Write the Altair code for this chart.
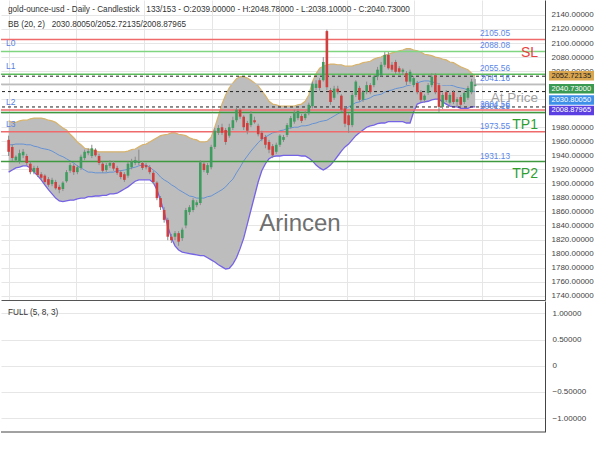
import altair as alt
import pandas as pd

# ---------------- data ----------------
opens = [1962, 1952, 1933, 1931, 1940, 1939, 1928, 1916, 1922, 1913,
         1911, 1906, 1899, 1902, 1895, 1892, 1903, 1918, 1925, 1916,
         1922, 1936, 1943, 1939, 1948, 1939, 1928, 1919, 1925, 1929,
         1922, 1916, 1913, 1911, 1923, 1929, 1929, 1929, 1926, 1923,
         1915, 1901, 1879, 1862, 1848, 1824, 1824, 1829, 1822, 1840,
         1859, 1862, 1869, 1872, 1928, 1915, 1923, 1952, 1972, 1980,
         1976, 1968, 1979, 1990, 2005, 1995, 1986, 1983, 1990, 1982,
         1972, 1966, 1959, 1953, 1945, 1955, 1962, 1969, 1980, 1988,
         1993, 1996, 1993, 2000, 2010, 2036, 2047, 2047, 2117, 2033,
         2022, 2035, 2025, 2007, 1997, 1983, 2026, 2036, 2019, 2030,
         2040, 2040, 2052, 2054, 2069, 2083, 2069, 2073, 2064, 2059,
         2057, 2045, 2040, 2043, 2030, 2019, 2029, 2040, 2054, 2040,
         2009, 2030, 2015, 2030, 2016, 2023, 2016, 2022, 2030, 2039.0]
highs = [1968, 1956, 1940, 1948, 1949, 1942, 1931, 1925, 1925, 1916,
         1913, 1909, 1908, 1905, 1898, 1903, 1919, 1929, 1928, 1926,
         1941, 1948, 1950, 1955, 1950, 1942, 1931, 1929, 1933, 1932,
         1925, 1919, 1916, 1931, 1935, 1938, 1948, 1932, 1929, 1926,
         1918, 1903, 1882, 1866, 1851, 1828, 1832, 1832, 1837, 1865,
         1869, 1879, 1876, 1933, 1931, 1929, 1955, 1979, 1983, 1985,
         1979, 1985, 1995, 2009, 2007, 1997, 1989, 2003, 1995, 1985,
         1975, 1969, 1962, 1956, 1958, 1970, 1969, 1986, 1996, 2005,
         2006, 1999, 2003, 2015, 2045, 2047, 2050, 2080, 2119, 2036,
         2039, 2039, 2027, 2010, 2000, 2029, 2047, 2039, 2033, 2045,
         2043, 2054, 2066, 2073, 2087, 2087, 2073, 2076, 2067, 2064,
         2060, 2062, 2053, 2046, 2033, 2027, 2043, 2057, 2057, 2043,
         2029, 2033, 2029, 2033, 2023, 2026, 2032, 2039, 2049, 2048.78]
lows = [1939, 1932, 1931, 1928, 1936, 1926, 1913, 1913, 1909, 1905,
        1899, 1895, 1896, 1891, 1886, 1889, 1901, 1915, 1912, 1913,
        1919, 1933, 1940, 1936, 1938, 1926, 1915, 1916, 1922, 1918,
        1912, 1906, 1902, 1908, 1920, 1926, 1926, 1919, 1920, 1913,
        1899, 1876, 1862, 1844, 1819, 1815, 1819, 1811, 1818, 1836,
        1855, 1859, 1866, 1869, 1916, 1912, 1920, 1949, 1969, 1969,
        1955, 1965, 1976, 1987, 1992, 1976, 1970, 1980, 1985, 1967,
        1960, 1950, 1943, 1936, 1942, 1952, 1959, 1966, 1978, 1985,
        1990, 1986, 1990, 1997, 2007, 2033, 2032, 2045, 2033, 2012,
        2019, 2027, 2002, 1980, 1972, 1980, 2023, 2016, 2016, 2027,
        2027, 2037, 2047, 2052, 2066, 2062, 2059, 2056, 2056, 2054,
        2040, 2042, 2037, 2027, 2016, 2015, 2026, 2037, 2027, 2002,
        2006, 2016, 2012, 2013, 2010, 2009, 2013, 2019, 2027, 2038.1]
closes = [1945, 1936, 1938, 1943, 1945, 1929, 1916, 1922, 1912, 1908,
          1902, 1898, 1905, 1893, 1891, 1901, 1916, 1926, 1916, 1923,
          1938, 1945, 1946, 1950, 1940, 1929, 1918, 1926, 1929, 1921,
          1915, 1909, 1905, 1928, 1931, 1933, 1931, 1922, 1923, 1916,
          1902, 1879, 1866, 1848, 1824, 1819, 1829, 1817, 1834, 1862,
          1866, 1876, 1873, 1930, 1919, 1926, 1952, 1975, 1979, 1972,
          1959, 1980, 1990, 2005, 1995, 1980, 1975, 1999, 1987, 1970,
          1963, 1955, 1948, 1940, 1955, 1968, 1966, 1983, 1993, 2000,
          2003, 1989, 1999, 2012, 2042, 2042, 2036, 2073, 2037, 2016,
          2035, 2030, 2005, 1985, 1983, 2026, 2045, 2019, 2030, 2040,
          2030, 2052, 2062, 2069, 2083, 2064, 2062, 2059, 2059, 2062,
          2045, 2059, 2050, 2030, 2019, 2025, 2040, 2052, 2030, 2009,
          2026, 2019, 2026, 2016, 2020, 2012, 2029, 2036, 2045, 2040.73]

bb_upper = [1989, 1987, 1987, 1989, 1990, 1990, 1992, 1993, 1993, 1993,
            1992, 1990, 1989, 1987, 1983, 1979, 1976, 1970, 1965, 1959,
            1955, 1950, 1949, 1948, 1946, 1945, 1945, 1945, 1945, 1945,
            1945, 1945, 1945, 1946, 1948, 1949, 1952, 1955, 1956, 1959,
            1962, 1965, 1968, 1969, 1970, 1972, 1972, 1970, 1969, 1968,
            1965, 1963, 1962, 1959, 1959, 1960, 1966, 1980, 1996, 2013,
            2026, 2036, 2043, 2049, 2052, 2052, 2050, 2047, 2043, 2039,
            2032, 2025, 2017, 2013, 2012, 2010, 2010, 2010, 2010, 2010,
            2012, 2013, 2017, 2026, 2045, 2056, 2064, 2067, 2069, 2070,
            2070, 2069, 2069, 2067, 2067, 2067, 2069, 2070, 2072, 2073,
            2074, 2077, 2079, 2080, 2083, 2084, 2086, 2087, 2089, 2090,
            2092, 2092, 2090, 2089, 2087, 2084, 2083, 2082, 2080, 2079,
            2077, 2076, 2073, 2072, 2069, 2066, 2064, 2062, 2057, 2052.72]
bb_mid = [1955, 1955, 1956, 1956, 1956, 1955, 1955, 1953, 1952, 1950,
          1949, 1948, 1946, 1943, 1940, 1938, 1935, 1932, 1929, 1925,
          1922, 1919, 1916, 1916, 1915, 1915, 1915, 1915, 1916, 1916,
          1918, 1918, 1919, 1920, 1922, 1923, 1925, 1926, 1926, 1923,
          1919, 1915, 1909, 1905, 1902, 1898, 1895, 1891, 1888, 1885,
          1882, 1881, 1879, 1879, 1879, 1881, 1882, 1885, 1888, 1891,
          1895, 1901, 1906, 1915, 1923, 1932, 1939, 1946, 1952, 1958,
          1963, 1966, 1969, 1972, 1973, 1975, 1976, 1978, 1979, 1980,
          1980, 1982, 1982, 1983, 1985, 1986, 1988, 1989, 1990, 1993,
          1996, 1999, 2002, 2005, 2009, 2012, 2015, 2016, 2019, 2020,
          2022, 2025, 2026, 2027, 2030, 2032, 2033, 2035, 2036, 2037,
          2039, 2040, 2042, 2043, 2045, 2046, 2046, 2045, 2043, 2042,
          2040, 2040, 2040, 2039, 2037, 2036, 2035, 2033, 2032, 2030.80]
bb_lower = [1916, 1919, 1922, 1923, 1925, 1925, 1922, 1916, 1911, 1905,
            1898, 1891, 1885, 1879, 1875, 1874, 1875, 1876, 1876, 1878,
            1879, 1879, 1881, 1881, 1882, 1882, 1883, 1883, 1885, 1885,
            1886, 1889, 1892, 1895, 1899, 1903, 1905, 1905, 1905, 1905,
            1901, 1891, 1876, 1859, 1839, 1822, 1811, 1805, 1802, 1801,
            1800, 1799, 1798, 1797, 1797, 1794, 1791, 1788, 1784, 1781,
            1778, 1779, 1785, 1794, 1807, 1822, 1842, 1862, 1882, 1902,
            1918, 1928, 1935, 1938, 1939, 1939, 1940, 1940, 1940, 1940,
            1940, 1939, 1939, 1936, 1932, 1926, 1922, 1919, 1922, 1926,
            1932, 1939, 1946, 1952, 1956, 1962, 1968, 1972, 1976, 1980,
            1982, 1983, 1985, 1986, 1986, 1988, 1988, 1988, 1988, 1988,
            1986, 1986, 2002, 2013, 2015, 2016, 2017, 2019, 2020, 2020,
            2016, 2013, 2010, 2009, 2009, 2007, 2007, 2007, 2009, 2008.88]

level_prices = [2105.05, 2088.08, 2055.56, 2041.16, 2004.56, 2001.15, 1973.55, 1931.13]
level_labels = ["2105.05", "2088.08", "2055.56", "2041.16", "2004.56", "2001.15", "1973.55", "1931.13"]
level_colors = ["#ef6a6a", "#80d680", "#5cba5c", "#bdbdbd", "#ef6a6a", "#3f9a3f", "#ef6a6a", "#3f9a3f"]
l_names = ["L0", "L1", "L2", "L3"]
l_prices = [2088.08, 2055.56, 2004.56, 1973.55]
bb_last = [2052.72135, 2030.80050, 2008.87965]
badge_values = [2052.72135, 2040.73000, 2030.80050, 2008.87965]
badge_texts = ["2052.72135", "2040.73000", "2030.80050", "2008.87965"]
badge_fills = ["#d9a54e", "#3a9a52", "#3d8fe8", "#5b3fe2"]
badge_text_colors = ["#222222", "#ffffff", "#ffffff", "#ffffff"]
badge_shift = [-0.4, 4.2, 8.4, 3.5]
price_ticks = list(range(1740, 2141, 20))
hidden_ticks = [2000, 2020, 2040]
osc_ticks = [-1, -0.5, 0, 0.5, 1]
grid_positions = [0, 18.7, 37.4, 56.1, 74.8, 93.5, 112.2, 130.9]

title1 = "gold-ounce-usd - Daily - Candlestick\u00a0\u00a0\u00a0133/153 - O:2039.00000 - H:2048.78000 - L:2038.10000 - C:2040.73000"
title2 = "BB (20, 2)\u00a0\u00a0\u00a02030.80050/2052.72135/2008.87965"

FONT = "Liberation Sans"
W, H = 544, 300

n = len(closes)
candles = pd.DataFrame({"i": list(range(n)), "open": opens, "high": highs, "low": lows, "close": closes})
bands = pd.DataFrame({"i": list(range(n)), "upper": bb_upper, "mid": bb_mid, "lower": bb_lower})
levels = pd.DataFrame({"p": level_prices, "lab": level_labels, "c": level_colors})
lnames = pd.DataFrame({"p": l_prices, "lab": l_names})
bbl = pd.DataFrame({"p": bb_last})

xscale = alt.Scale(domain=[-0.733, 146.93], nice=False, zero=False)
yscale = alt.Scale(domain=[1733.8, 2161.3], nice=False, zero=False)
xax = alt.Axis(values=grid_positions, labels=False, ticks=False, domain=True,
               domainColor="#555555", grid=True, gridColor="#e6e6e6", title=None)
hidden_expr = "indexof(" + str(hidden_ticks) + ", datum.value) >= 0 ? '' : format(datum.value, '.5f')"
yax = alt.Axis(orient="right", values=price_ticks, labelExpr=hidden_expr, ticks=False,
               labelPadding=6, labelFontSize=8, labelColor="#444444", labelFont=FONT,
               domainColor="#444444", gridColor="#e6e6e6", title=None, labelOverlap=False)


def X(f):
    return alt.X(f, type="quantitative", scale=xscale, axis=xax)


def Y(f):
    return alt.Y(f, type="quantitative", scale=yscale, axis=yax)


area = alt.Chart(bands).mark_area(color="#bdbdbd", opacity=1).encode(
    x=X("i"), y=Y("upper"), y2="lower")
up_line = alt.Chart(bands).mark_line(color="#d8b36c", strokeWidth=1.2).encode(x=X("i"), y=Y("upper"))
lo_line = alt.Chart(bands).mark_line(color="#7563e6", strokeWidth=1.3).encode(x=X("i"), y=Y("lower"))
mid_line = alt.Chart(bands).mark_line(color="#5b8dd6", strokeWidth=0.9).encode(x=X("i"), y=Y("mid"))

lvl_rules = alt.Chart(levels).mark_rule(strokeWidth=1.5).encode(
    y=Y("p"), color=alt.Color("c:N", scale=None))
dash_rules = alt.Chart(bbl).mark_rule(color="#222222", strokeWidth=1, strokeDash=[3, 3]).encode(y=Y("p"))

wicks = alt.Chart(candles).mark_rule(color="#8a8a8a", strokeWidth=1).encode(
    x=X("i"), y=Y("low"), y2="high")
bodies = alt.Chart(candles).mark_bar(size=2.6).encode(
    x=X("i"), y=Y("open"), y2="close",
    color=alt.condition("datum.close >= datum.open", alt.value("#3e9d5e"), alt.value("#d03e3e")))

lvl_text = alt.Chart(levels).mark_text(align="left", baseline="bottom", dy=-1, fontSize=8.3,
                                        color="#5a86e8", font=FONT).encode(
    x=alt.value(479), y=Y("p"), text="lab:N")
lname_text = alt.Chart(lnames).mark_text(align="left", baseline="bottom", dy=-3, fontSize=8.5,
                                          color="#5a7fe0", font=FONT).encode(
    x=alt.value(5), y=Y("p"), text="lab:N")

one = pd.DataFrame({"k": [0]})


def label(txt, x, y, size, color, align="left", baseline="middle"):
    return alt.Chart(one).mark_text(text=txt, align=align, baseline=baseline, fontSize=size,
                                    color=color, font=FONT).encode(x=alt.value(x), y=alt.value(y))


texts = [
    label(title1, 7, 10, 8.2, "#333333"),
    label(title2, 7, 25, 8.2, "#333333"),
    label("SL", 537, 56.5, 14, "#e8413d", align="right", baseline="alphabetic"),
    label("TP1", 537, 129, 14, "#2f9e2f", align="right", baseline="alphabetic"),
    label("TP2", 537, 178, 14, "#2f9e2f", align="right", baseline="alphabetic"),
    label("At Price", 537, 101.5, 13.5, "#a0a0a0", align="right", baseline="alphabetic"),
    label("Arincen", 299, 224, 24, "#6f6f6f", align="center"),
]

badges = []
for v, t, f, tc, s in zip(badge_values, badge_texts, badge_fills, badge_text_colors, badge_shift):
    d = pd.DataFrame({"p": [v], "t": [t]})
    badges.append(alt.Chart(d).mark_rect(color=f, yOffset=s - 4.8, y2Offset=s + 4.8).encode(
        x=alt.value(548), x2=alt.value(593), y=Y("p"), y2="p"))
    badges.append(alt.Chart(d).mark_text(align="left", baseline="middle", dy=s, fontSize=7.5,
                                         color=tc, font=FONT).encode(
        x=alt.value(550.5), y=Y("p"), text="t:N"))

main = alt.layer(area, up_line, lo_line, mid_line, lvl_rules, dash_rules, wicks, bodies,
                 lvl_text, lname_text, *texts, *badges).properties(width=W, height=H)

# ---------------- oscillator panel ----------------
osc_scale = alt.Scale(domain=[-1.266, 1.236], nice=False, zero=False)
osc_axis = alt.Axis(orient="right", values=osc_ticks,
                    labelExpr="datum.value == 0 ? '0' : format(datum.value, '.5f')",
                    ticks=False, labelPadding=7, labelFontSize=8, labelColor="#444444",
                    labelFont=FONT, gridColor="#e6e6e6", domainColor="#444444", title=None)
osc_base = alt.Chart(pd.DataFrame({"v": osc_ticks})).mark_point(opacity=0).encode(
    y=alt.Y("v:Q", scale=osc_scale, axis=osc_axis))
osc_label = label("FULL (5, 8, 3)", 7, 12, 8.2, "#333333")
osc_bottom = alt.Chart(one).mark_rule(color="#444444", strokeWidth=1).encode(
    x=alt.value(0), x2=alt.value(W), y=alt.value(131))
lower = alt.layer(osc_base, osc_label, osc_bottom).properties(width=W, height=131)

chart = alt.vconcat(main, lower, spacing=1).properties(
    padding={"left": 0, "top": 0, "right": 0, "bottom": 0}, background="white"
).configure(font=FONT).configure_view(strokeWidth=0)

chart.save("out.html", embed_options={"renderer": "svg", "actions": False})
